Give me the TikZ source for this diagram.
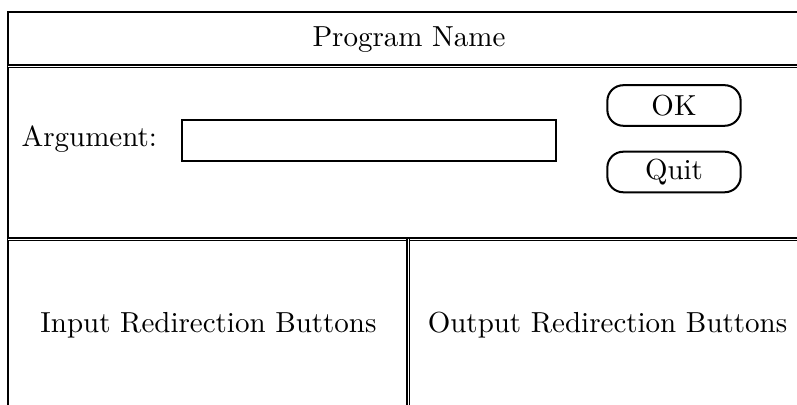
\documentclass[tikz,border=0pt]{standalone}
\begin{document}
\begin{tikzpicture}[x=0.345pt, y=-0.345pt,
    frame/.style={line width=0.7pt},
    divider/.style={double, double distance=0.22pt, line width=0.55pt},
    label/.style={inner sep=0pt, font=\fontsize{10}{12}\selectfont},
    entry/.style={draw, line width=0.6pt, minimum width=129pt, minimum height=14.2pt, inner sep=0pt},
    btn/.style={draw, line width=0.7pt, rounded corners=5.5pt, minimum width=46pt, minimum height=14pt, inner sep=0pt, font=\fontsize{10}{12}\selectfont}]
  \useasboundingbox (0,0) rectangle (797,405);
  \clip (0,0) rectangle (797,405);

  % outer frame (continues past the right and bottom edges)
  \draw[frame] (830,12) -- (8,12) -- (8,430);

  % section dividers
  \draw[divider] (8,66) -- (830,66);
  \draw[divider] (8,239) -- (830,239);
  \draw[divider] (408,239) -- (408,430);

  % title bar
  \node[label, anchor=base] (title) at (409,47) {Program Name};

  % argument row
  \node[label, anchor=base west] (argLabel) at (21,147) {Argument:};
  \node[entry, anchor=north west] (argEntry) at (181,119) {};

  % buttons
  \node[btn] (okBtn) at (674,105.5) {OK};
  \node[btn] (quitBtn) at (674,172) {Quit};

  % redirection panels
  \node[label, anchor=base] (inputLbl) at (208.5,333) {Input Redirection Buttons};
  \node[label, anchor=base] (outputLbl) at (607.5,333) {Output Redirection Buttons};
\end{tikzpicture}
\end{document}
